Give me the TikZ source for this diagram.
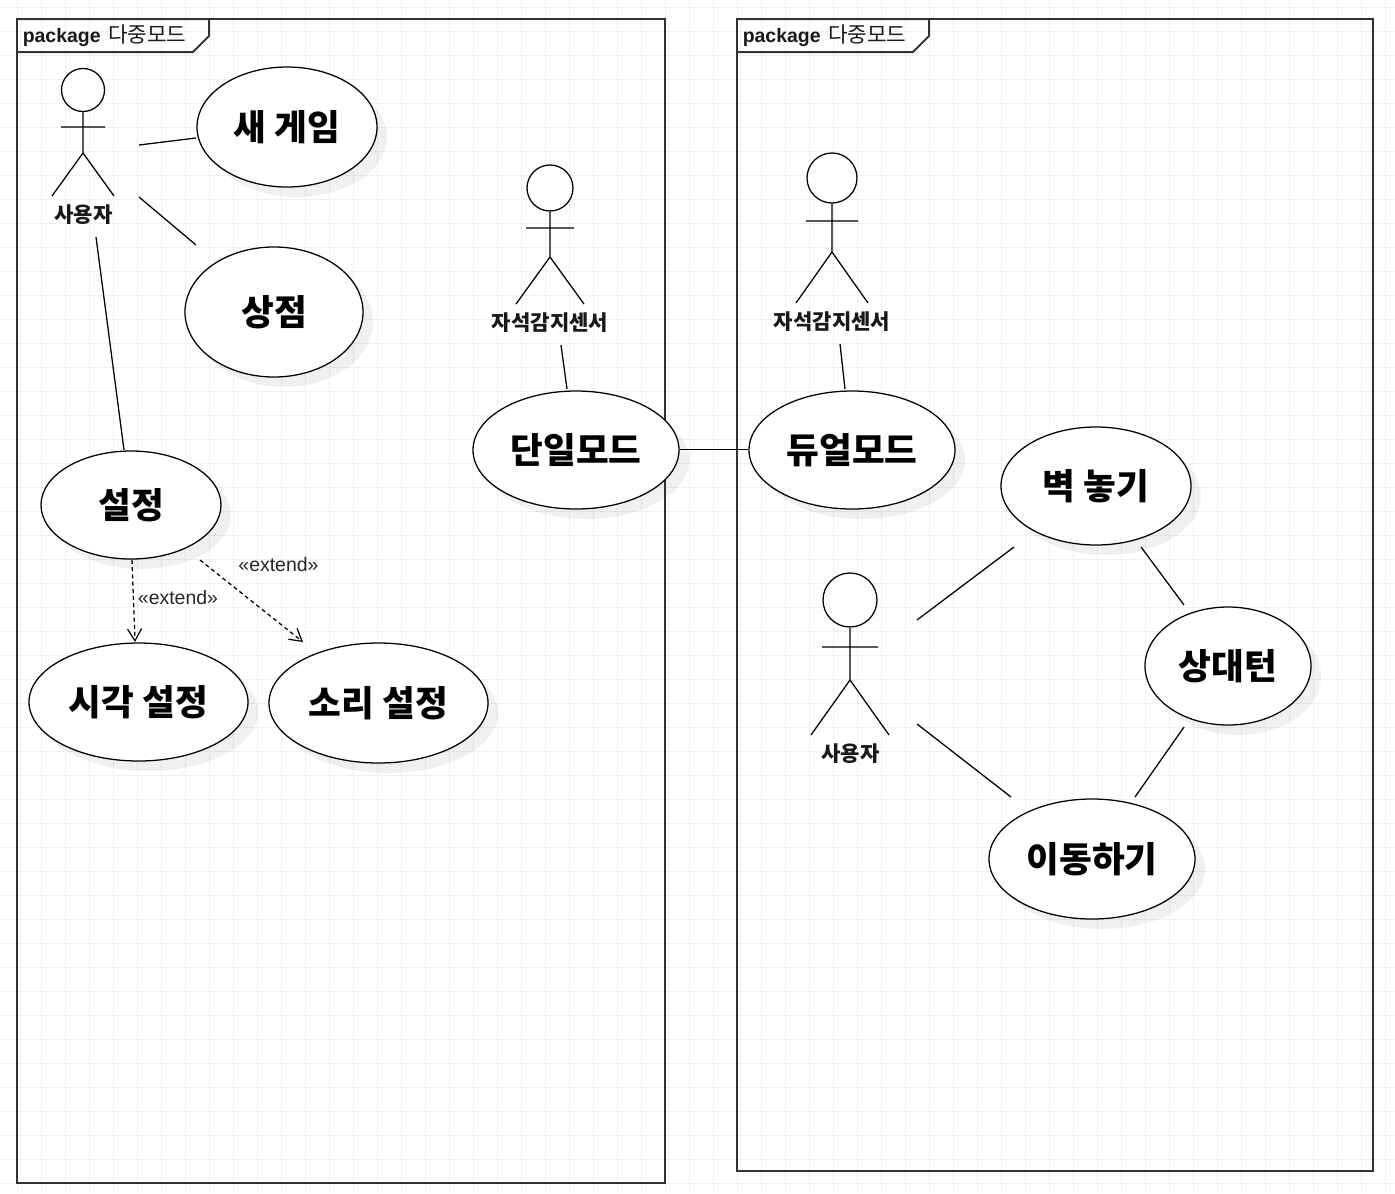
\documentclass[tikz,border=0pt]{standalone}
\usepackage{fontspec}
\setmainfont{Liberation Sans}
\newfontfamily\kr{Noto Sans CJK KR}
\usetikzlibrary{shapes.geometric,shadows,arrows.meta}
\tikzset{
  frameline/.style={draw=black!80,line width=1.5pt},
  gridline/.style={draw=black!6,line width=0.75pt},
  conn/.style={draw=black,line width=0.95pt},
  dep/.style={conn,dash pattern=on 3pt off 2.4pt,-{Straight Barb[length=9pt,width=10.5pt,line width=0.9pt]}},
  usecase/.style={ellipse,draw=black,line width=0.95pt,fill=white,inner sep=0pt,font=\kr\bfseries\fontsize{26.7}{32}\selectfont,
    drop shadow={shadow xshift=7.5pt,shadow yshift=-7.5pt,fill=black,opacity=.06}},
  head/.style={circle,draw=black,line width=0.95pt,fill=white,inner sep=0pt},
  actorlabel/.style={font=\kr\bfseries\fontsize{15.8}{19}\selectfont,text=black!90,inner sep=0pt},
  extlabel/.style={font=\fontsize{14.6}{17}\selectfont,text=black!85,inner sep=0pt},
  pkglabel/.style={anchor=west,inner sep=0pt,font=\fontsize{14.6}{17}\selectfont,text=black!90}
}
\newcommand{\pkgtext}{\textbf{package}\hspace{5.5pt}{\kr\fontsize{16}{17}\selectfont 다중모드}}
\begin{document}
\begin{tikzpicture}[x=0.75pt,y=-0.75pt]
\useasboundingbox (0,0) rectangle (1395,1193);
\fill[white] (0,0) rectangle (1395,1193);
\foreach \k in {0,...,57}{\draw[gridline] ({17.5+24*\k},0) -- ({17.5+24*\k},1193);}
\foreach \k in {0,...,49}{\draw[gridline] (0,{7.5+24*\k}) -- (1395,{7.5+24*\k});}

% packages
\draw[frameline] (17,19) rectangle (665,1183);
\draw[frameline] (17,19) -- (209,19) -- (209,36) -- (193,52) -- (17,52);
\node[pkglabel] (pkgA) at (22.5,35.5) {\pkgtext};
\draw[frameline] (737,19) rectangle (1373,1171);
\draw[frameline] (737,19) -- (929,19) -- (929,36) -- (913,52) -- (737,52);
\node[pkglabel] (pkgB) at (742.5,35.5) {\pkgtext};

% use cases
\node[usecase,minimum width=135pt,minimum height=90pt] (newgame) at (287,127) {새 게임};
\node[usecase,minimum width=133.5pt,minimum height=97.5pt] (shop) at (274,312) {상점};
\node[usecase,minimum width=135pt,minimum height=81pt] (settings) at (131,505) {설정};
\node[usecase,minimum width=164.25pt,minimum height=88.5pt] (visual) at (138.5,702) {시각 설정};
\node[usecase,minimum width=164.25pt,minimum height=90pt] (sound) at (378.5,703) {소리 설정};
\node[usecase,minimum width=154.5pt,minimum height=88.5pt] (single) at (576,450) {단일모드};
\node[usecase,minimum width=154.5pt,minimum height=88.5pt] (dual) at (852,450) {듀얼모드};
\node[usecase,minimum width=142.5pt,minimum height=88.5pt] (wall) at (1096,486) {벽 놓기};
\node[usecase,minimum width=124.5pt,minimum height=88.5pt] (turn) at (1228,666) {상대턴};
\node[usecase,minimum width=154.5pt,minimum height=90pt] (move) at (1092,859) {이동하기};

% actors
\node[head,minimum size=32.25pt] (headA) at (83,90) {};
\coordinate (hipA) at (83,153); \coordinate (armAl) at (61,127); \coordinate (armAr) at (105,127);
\coordinate (footAl) at (52,196); \coordinate (footAr) at (114,196);
\draw[conn] (headA) -- (hipA) -- (footAl) (hipA) -- (footAr) (armAl) -- (armAr);
\node[actorlabel] (labelA) at (83.5,215) {사용자};

\node[head,minimum size=34.5pt] (headB) at (550,188) {};
\coordinate (hipB) at (550,257); \coordinate (armBl) at (526,228); \coordinate (armBr) at (574,228);
\coordinate (footBl) at (516,304); \coordinate (footBr) at (584,304);
\draw[conn] (headB) -- (hipB) -- (footBl) (hipB) -- (footBr) (armBl) -- (armBr);
\node[actorlabel] (labelB) at (550,323) {자석감지센서};

\node[head,minimum size=37.5pt] (headC) at (832,178) {};
\coordinate (hipC) at (832,252); \coordinate (armCl) at (806,221); \coordinate (armCr) at (858,221);
\coordinate (footCl) at (796,303); \coordinate (footCr) at (868,303);
\draw[conn] (headC) -- (hipC) -- (footCl) (hipC) -- (footCr) (armCl) -- (armCr);
\node[actorlabel] (labelC) at (832,322) {자석감지센서};

\node[head,minimum size=40.5pt] (headD) at (850,600) {};
\coordinate (hipD) at (850,680); \coordinate (armDl) at (822,647); \coordinate (armDr) at (878,647);
\coordinate (footDl) at (811,735); \coordinate (footDr) at (889,735);
\draw[conn] (headD) -- (hipD) -- (footDl) (hipD) -- (footDr) (armDl) -- (armDr);
\node[actorlabel] (labelD) at (850.5,754) {사용자};

% connector ends
\coordinate (aGame) at (139,145); \coordinate (gameA) at (196,138);
\coordinate (aShop) at (139,197); \coordinate (shopA) at (196,245);
\coordinate (aSet) at (96,237); \coordinate (setA) at (124,450);
\coordinate (bSingle) at (561,345); \coordinate (singleB) at (567,389);
\coordinate (cDual) at (840,344); \coordinate (dualC) at (845,389);
\coordinate (dWall) at (917,620); \coordinate (wallD) at (1014,547);
\coordinate (dMove) at (917,724); \coordinate (moveD) at (1011,797);
\coordinate (wallTurn) at (1141,547); \coordinate (turnWall) at (1184,605);
\coordinate (turnMove) at (1184,727); \coordinate (moveTurn) at (1135,797);
\coordinate (setV) at (132,560); \coordinate (vSet) at (135,642);
\coordinate (setS) at (200,560); \coordinate (sSet) at (303,642);
\coordinate (singleDual) at (680,449.5); \coordinate (dualSingle) at (748,449.5);

\draw[conn] (aGame) -- (gameA);
\draw[conn] (aShop) -- (shopA);
\draw[conn] (aSet) -- (setA);
\draw[conn] (bSingle) -- (singleB);
\draw[conn] (cDual) -- (dualC);
\draw[conn] (singleDual) -- (dualSingle);
\draw[conn] (dWall) -- (wallD);
\draw[conn] (dMove) -- (moveD);
\draw[conn] (wallTurn) -- (turnWall);
\draw[conn] (turnMove) -- (moveTurn);
\draw[dep] (setV) -- (vSet);
\draw[dep] (setS) -- (sSet);
\node[extlabel] (extA) at (178,598) {«extend»};
\node[extlabel] (extB) at (278.5,565) {«extend»};
\end{tikzpicture}
\end{document}
